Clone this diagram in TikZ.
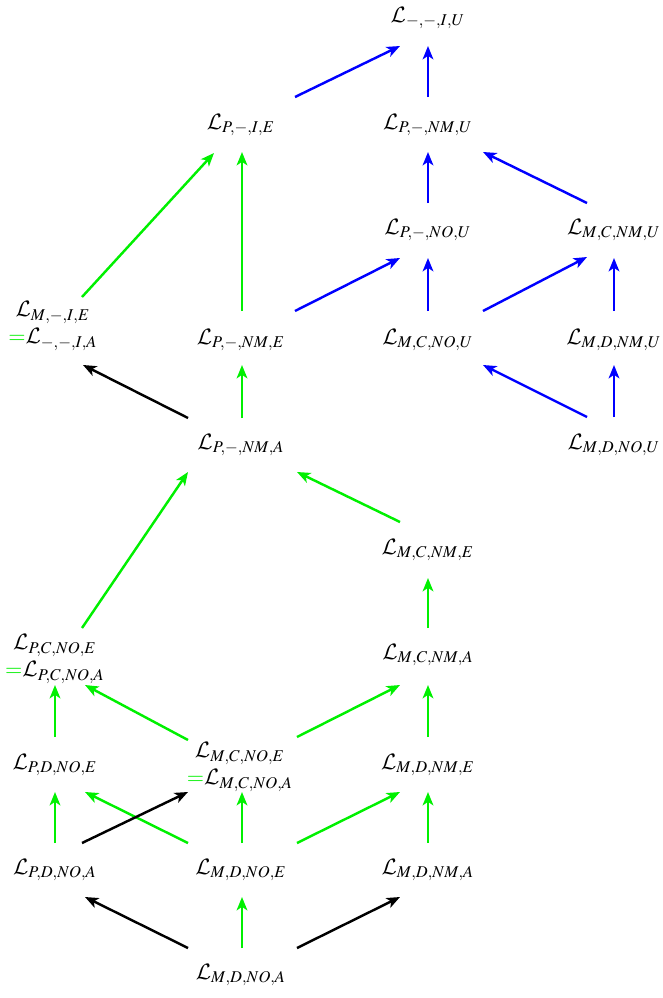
\documentclass[tikz,border=0pt]{standalone}
\usepackage{mathptmx}
\DeclareMathAlphabet{\mathcal}{OMS}{cmsy}{m}{n}
\usetikzlibrary{arrows.meta}

\definecolor{inclblue}{RGB}{0,0,255}
\definecolor{inclgreen}{RGB}{0,240,0}

\tikzset{
  lang/.style={inner sep=0pt, align=center, font=\normalsize},
  conn/.style={line width=1.1pt, -{Stealth[length=6pt,width=4.8pt,inset=1.6pt]}},
}

% \link[colour]{from}{dx,dy}{to}{dx,dy}: arrow between offsets of two nodes
\newcommand{\link}[5][black]{%
  \draw[conn,#1] ([shift={(#3)}]#2.center) -- ([shift={(#5)}]#4.center);}

\newcommand{\eqL}{\textcolor{inclgreen}{$=$}}

\begin{document}
\begin{tikzpicture}[x=0.45pt,y=-0.45pt]
\useasboundingbox (0,0) rectangle (663,998);

% languages
\node[lang] (LIU)   at (428,18)  {$\mathcal{L}_{-,-,I,U}$};
\node[lang] (PIE)   at (241,125) {$\mathcal{L}_{P,-,I,E}$};
\node[lang] (PNMU)  at (428,125) {$\mathcal{L}_{P,-,NM,U}$};
\node[lang] (PNOU)  at (428,230) {$\mathcal{L}_{P,-,NO,U}$};
\node[lang] (MCNMU) at (614,230) {$\mathcal{L}_{M,C,NM,U}$};
\node[lang] (MIE)   at (53,326)  {$\mathcal{L}_{M,-,I,E}$\\\eqL$\mathcal{L}_{-,-,I,A}$};
\node[lang] (PNME)  at (241,340) {$\mathcal{L}_{P,-,NM,E}$};
\node[lang] (MCNOU) at (428,340) {$\mathcal{L}_{M,C,NO,U}$};
\node[lang] (MDNMU) at (614,340) {$\mathcal{L}_{M,D,NM,U}$};
\node[lang] (PNMA)  at (241,445) {$\mathcal{L}_{P,-,NM,A}$};
\node[lang] (MDNOU) at (614,445) {$\mathcal{L}_{M,D,NO,U}$};
\node[lang] (MCNME) at (428,550) {$\mathcal{L}_{M,C,NM,E}$};
\node[lang] (PCNO)  at (55,659)  {$\mathcal{L}_{P,C,NO,E}$\\\eqL$\mathcal{L}_{P,C,NO,A}$};
\node[lang] (MCNMA) at (428,655) {$\mathcal{L}_{M,C,NM,A}$};
\node[lang] (PDNOE) at (55,765)  {$\mathcal{L}_{P,D,NO,E}$};
\node[lang] (MCNOE) at (240,767) {$\mathcal{L}_{M,C,NO,E}$\\\eqL$\mathcal{L}_{M,C,NO,A}$};
\node[lang] (MDNME) at (428,765) {$\mathcal{L}_{M,D,NM,E}$};
\node[lang] (PDNOA) at (55,870)  {$\mathcal{L}_{P,D,NO,A}$};
\node[lang] (MDNOE) at (241,870) {$\mathcal{L}_{M,D,NO,E}$};
\node[lang] (MDNMA) at (428,870) {$\mathcal{L}_{M,D,NM,A}$};
\node[lang] (MDNOA) at (241,975) {$\mathcal{L}_{M,D,NO,A}$};

% blue inclusions
\link[inclblue]{PIE}{54,-28}{LIU}{-28,28}
\link[inclblue]{PNMU}{0,-28}{LIU}{0,28}
\link[inclblue]{PNOU}{0,-27}{PNMU}{0,27}
\link[inclblue]{MCNMU}{-27,-27}{PNMU}{55,27}
\link[inclblue]{MCNOU}{0,-29}{PNOU}{0,28}
\link[inclblue]{PNME}{54,-29}{PNOU}{-28,28}
\link[inclblue]{MCNOU}{55,-29}{MCNMU}{-27,27}
\link[inclblue]{MDNMU}{0,-29}{MCNMU}{0,28}
\link[inclblue]{MDNOU}{-27,-28}{MCNOU}{55,25}
\link[inclblue]{MDNOU}{0,-28}{MDNMU}{0,25}

% green inclusions
\link[inclgreen]{MIE}{29,-29}{PIE}{-27,28}
\link[inclgreen]{PNME}{1,-29}{PIE}{1,27}
\link[inclgreen]{PNMA}{1,-27}{PNME}{1,25}
\link[inclgreen]{PCNO}{27,-31}{PNMA}{-53,27}
\link[inclgreen]{MCNME}{-28,-28}{PNMA}{56,27}
\link[inclgreen]{MCNMA}{0,-27}{MCNME}{0,28}
\link[inclgreen]{PDNOE}{0,-28}{PCNO}{0,26}
\link[inclgreen]{MCNOE}{-52,-27}{PCNO}{30,26}
\link[inclgreen]{MCNOE}{57,-30}{MCNMA}{-28,30}
\link[inclgreen]{MDNME}{0,-28}{MCNMA}{0,30}
\link[inclgreen]{PDNOA}{0,-27}{PDNOE}{0,27}
\link[inclgreen]{MDNOE}{-53,-27}{PDNOE}{30,27}
\link[inclgreen]{MDNOE}{1,-27}{MCNOE}{2,25}
\link[inclgreen]{MDNOE}{56,-27}{MDNME}{-28,27}
\link[inclgreen]{MDNMA}{0,-27}{MDNME}{0,27}
\link[inclgreen]{MDNOA}{1,-27}{MDNOE}{1,27}

% black inclusions
\link{PNMA}{-53,-27}{MIE}{30,39}
\link{PDNOA}{27,-27}{MCNOE}{-52,25}
\link{MDNOA}{-53,-27}{PDNOA}{30,27}
\link{MDNOA}{56,-27}{MDNMA}{-28,27}
\end{tikzpicture}
\end{document}
